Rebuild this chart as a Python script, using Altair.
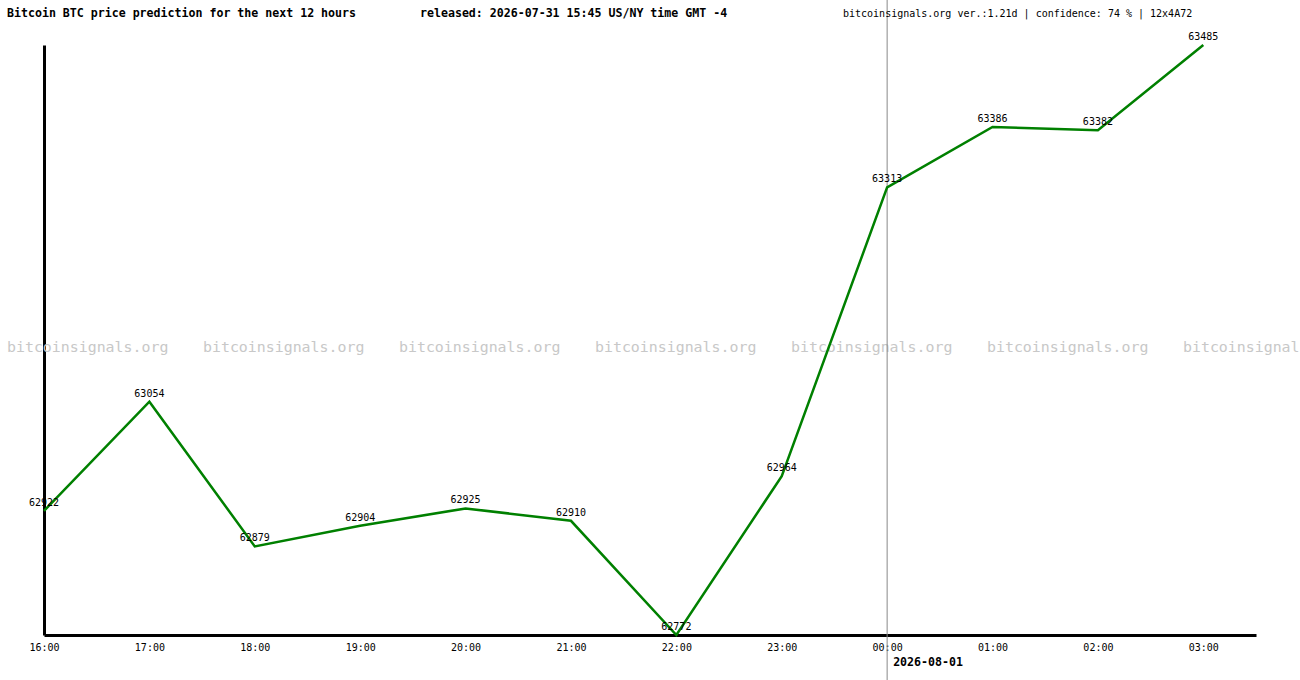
import altair as alt
import pandas as pd

# ---- data ----
hours = ["16:00", "17:00", "18:00", "19:00", "20:00", "21:00",
         "22:00", "23:00", "00:00", "01:00", "02:00", "03:00"]
prices = [62922, 63054, 62879, 62904, 62925, 62910,
          62772, 62964, 63313, 63386, 63382, 63485]
title_left = "Bitcoin BTC price prediction for the next 12 hours"
title_mid = "released: 2026-07-31 15:45 US/NY time GMT -4"
title_right = "bitcoinsignals.org ver.:1.21d | confidence: 74 % | 12x4A72"
date_label = "2026-08-01"
date_index = [8]
watermark = "bitcoinsignals.org"
watermark_count = 7

FONT = "DejaVu Sans Mono"
W, H = 1212, 590

df = pd.DataFrame({"i": list(range(len(hours))), "hour": hours, "price": prices})
label_expr = "[" + ",".join(f"'{h}'" for h in hours) + "][datum.value]"

xscale = alt.Scale(domain=[0, 11.5], nice=False, zero=False)
yscale = alt.Scale(domain=[min(prices), max(prices)], nice=False, zero=False)

x_enc = alt.X("i:Q", scale=xscale,
              axis=alt.Axis(values=list(range(len(hours))), labelExpr=label_expr,
                            title=None, ticks=False, grid=False, domainWidth=3,
                            domainColor="black", labelFont=FONT, labelFontSize=10,
                            labelColor="black", labelPadding=7, labelFlush=False))
y_enc = alt.Y("price:Q", scale=yscale,
              axis=alt.Axis(title=None, labels=False, ticks=False, grid=False,
                            domainWidth=3, domainColor="black"))

base = alt.Chart(df)

wm_df = pd.DataFrame({"k": list(range(watermark_count))})
wm = alt.Chart(wm_df).transform_calculate(
    px="-37 + 196 * datum.k"
).mark_text(text=watermark, font=FONT, fontSize=14.9, color="#c8c8c8",
            align="left", baseline="middle").encode(
    x=alt.X("px:Q", scale=None), y=alt.value(348 - 45))

vline = alt.Chart(pd.DataFrame({"i": date_index})).mark_rule(
    color="#888888", strokeWidth=1).encode(
    x=alt.X("i:Q", scale=xscale), y=alt.value(-45), y2=alt.value(H + 45))

line = base.mark_line(color="#008000", strokeWidth=2.5).encode(x=x_enc, y=y_enc)

labels = base.mark_text(font=FONT, fontSize=10, color="black",
                        baseline="middle", dy=-8).encode(
    x=alt.X("i:Q", scale=xscale), y=alt.Y("price:Q", scale=yscale),
    text=alt.Text("price:Q", format="d"))

date_txt = alt.Chart(pd.DataFrame({"i": date_index, "t": [date_label]})).mark_text(
    font=FONT, fontSize=11.6, fontWeight="bold", color="black",
    align="left", baseline="middle", dx=6).encode(
    x=alt.X("i:Q", scale=xscale), y=alt.value(663 - 45), text="t:N")

def header(txt, x, size, weight):
    return alt.Chart(pd.DataFrame({"t": [txt]})).mark_text(
        font=FONT, fontSize=size, fontWeight=weight, color="black",
        align="left", baseline="middle").encode(
        x=alt.value(x), y=alt.value(14 - 45), text="t:N")

h1 = header(title_left, 7 - 44, 11.6, "bold")
h2 = header(title_mid, 420 - 44, 11.6, "bold")
h3 = header(title_right, 843 - 44, 10, "normal")

chart = alt.layer(wm, vline, line, labels, date_txt, h1, h2, h3).properties(
    width=W, height=H,
    autosize=alt.AutoSizeParams(type="none"),
    padding={"left": 44, "top": 45, "right": 44, "bottom": 45},
    background="white",
).configure_view(stroke=None)

chart.save("out.html", embed_options={"renderer": "svg", "actions": False})
